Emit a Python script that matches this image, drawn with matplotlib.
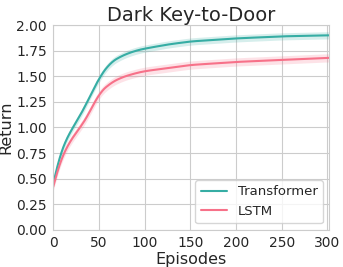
import numpy as np
import matplotlib
matplotlib.use("Agg")
import matplotlib.pyplot as plt
import seaborn as sns

episodes = [0, 5, 10, 18, 25, 30, 40, 50, 62, 75, 90, 100, 125, 150, 200, 250, 300]
transformer = [0.45, 0.66, 0.80, 0.95, 1.05, 1.12, 1.30, 1.48, 1.63, 1.70, 1.75, 1.77, 1.81, 1.84, 1.87, 1.89, 1.90]
transformer_err = 0.035
lstm = [0.42, 0.60, 0.72, 0.86, 0.95, 1.00, 1.15, 1.33, 1.43, 1.49, 1.53, 1.55, 1.58, 1.61, 1.64, 1.66, 1.68]
lstm_err = 0.04

sns.set_style("whitegrid")
colors = sns.color_palette("husl", 2)

# smooth between the read points
x = np.linspace(0, 302, 600)
t = np.interp(x, episodes, transformer)
l = np.interp(x, episodes, lstm)
n = 29
k = np.ones(n) / n
t = np.convolve(np.pad(t, n // 2, mode="reflect", reflect_type="odd"), k, mode="valid")
l = np.convolve(np.pad(l, n // 2, mode="reflect", reflect_type="odd"), k, mode="valid")

fig = plt.figure(figsize=(3.43, 2.67), dpi=100)
ax = fig.add_axes([0.155, 0.139, 0.805, 0.767])
ax.plot(x, t, color=colors[1], lw=1.5, label="Transformer")
ax.fill_between(x, t - transformer_err, t + transformer_err, color=colors[1], alpha=0.2, lw=0)
ax.plot(x, l, color=colors[0], lw=1.5, label="LSTM")
ax.fill_between(x, l - lstm_err, l + lstm_err, color=colors[0], alpha=0.2, lw=0)

ax.set_xlim(0, 302)
ax.set_ylim(0, 2.0)
ax.set_xticks([0, 50, 100, 150, 200, 250, 300])
ax.set_yticks([0, 0.25, 0.5, 0.75, 1.0, 1.25, 1.5, 1.75, 2.0])
ax.tick_params(labelsize=10, pad=1)
ax.set_xlabel("Episodes", fontsize=11.5, labelpad=1)
ax.set_ylabel("Return", fontsize=11.5, labelpad=2)
ax.set_title("Dark Key-to-Door", fontsize=14, pad=3)
ax.legend(loc="lower right", fontsize=9.5, frameon=True)

fig.savefig("out.png", dpi=100)
